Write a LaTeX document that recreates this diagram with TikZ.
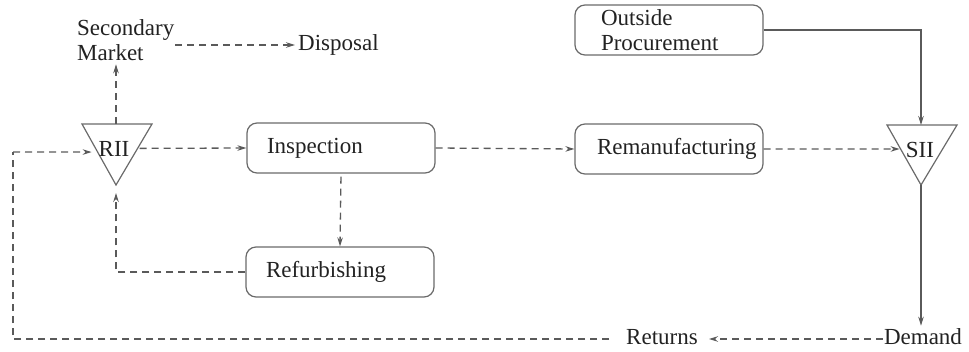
\documentclass[tikz,border=0pt]{standalone}
\usepackage{fontspec}
\setmainfont{Liberation Serif}
\usetikzlibrary{arrows.meta,calc}
\definecolor{linegray}{HTML}{5A5A5A}
\definecolor{boxgray}{HTML}{6A6A6A}
\definecolor{txt}{HTML}{222222}
\tikzset{
  every node/.style={font=\fontsize{23}{25}\selectfont, text=txt},
  procbox/.style={draw=boxgray, line width=1.2pt, rounded corners=10pt,
    minimum height=50pt, inner xsep=20pt, text width=148pt, align=left},
  lbl/.style={inner sep=3pt},
  dflow/.style={draw=linegray, line width=1.3pt, dash pattern=on 7pt off 5pt,
    -{Stealth[length=9pt,width=5.5pt]}},
  dline/.style={draw=linegray, line width=1.3pt, dash pattern=on 7pt off 5pt},
  sflow/.style={draw=linegray, line width=1.2pt, -{Stealth[length=9pt,width=5.5pt]}},
  tri/.style={draw=boxgray, line width=1.2pt},
}
\begin{document}
\begin{tikzpicture}[x=1pt,y=-1pt]
\useasboundingbox (0,0) rectangle (969,352);

% triangles
\coordinate (riiTL) at (82,124);
\coordinate (riiTR) at (152,124);
\coordinate (riiB) at (116,185);
\coordinate (riiTop) at (116,124);
\draw[tri] (riiTL) -- (riiTR) -- (riiB) -- cycle;
\node[lbl] (rii) at (114,149) {RII};

\coordinate (siiTL) at (887,125);
\coordinate (siiTR) at (957,125);
\coordinate (siiB) at (921,185);
\coordinate (siiTop) at (921,125);
\draw[tri] (siiTL) -- (siiTR) -- (siiB) -- cycle;
\node[lbl] (sii) at (920,150) {SII};

% boxes
\node[procbox] (insp) at (341,148) {Inspection};
\node[procbox] (ref) at (340,272) {Refurbishing};
\node[procbox, inner xsep=22pt, text width=144pt] (rem) at (669,149) {Remanufacturing};
\node[procbox, inner xsep=26pt, text width=136pt] (out) at (669,30) {Outside\\Procurement};

% text nodes
\node[lbl, anchor=west, align=left] (sec) at (74,40.5) {Secondary\\Market};
\node[lbl, anchor=west] (disp) at (295,45) {Disposal};
\node[lbl] (ret) at (662,337) {Returns};
\node[lbl] (dem) at (923,337) {Demand};

% helper coordinates
\coordinate (c1) at (13,339);
\coordinate (c2) at (13,152);
\coordinate (riiIn) at ($(riiTL)!0.46!(riiB)$);
\coordinate (riiOut) at ($(riiTR)!0.40!(riiB)$);
\coordinate (siiIn) at ($(siiTL)!0.40!(siiB)$);

% connectors
\draw[dflow] (riiTop) -- (riiTop |- sec.south);
\draw[dflow, shorten <=-2pt] (sec.east |- disp.west) -- (disp.west);
\draw[dflow, shorten <=2pt] (riiOut) -- (insp.west);
\draw[dflow, shorten <=3pt] (insp.south) -- (ref.north);
\draw[dflow, shorten >=8pt] (ref.west) -| (riiB);
\draw[dflow] (insp.east) -- (rem.west);
\draw[dflow, shorten >=1pt] (rem.east) -- (siiIn);
\draw[sflow] (out.east) -| (siiTop);
\draw[sflow] (siiB) -- (siiB |- dem.north);
\draw[dflow, shorten >=8pt, shorten <=-2pt] (dem.west |- c1) -- (ret.east |- c1);
\draw[dline, shorten <=14pt] (ret.west |- c1) -- (c1) -- (c2);
\draw[dflow, shorten >=6pt] (c2) -- (riiIn);
\end{tikzpicture}
\end{document}
